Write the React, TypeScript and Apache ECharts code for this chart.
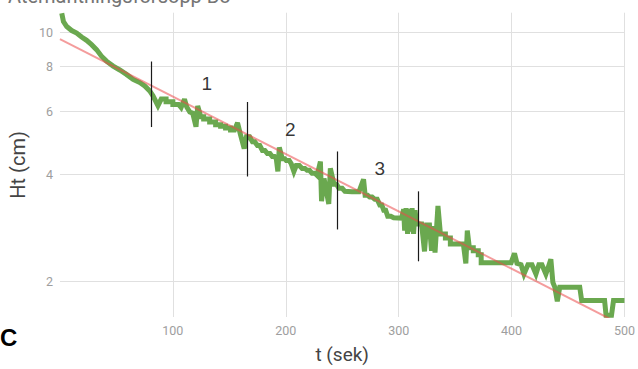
import { useEffect, useRef } from "react";
import * as echarts from "echarts";

// Measured water height (cm) against time (s)
const timeSec = [
  1.6, 3.1, 6.0, 10.4, 14.8, 19.2, 23.6, 28.0, 32.4, 36.8, 41.2, 47.1, 53.0, 58.9, 64.8, 70.7, 75.1, 79.5,
  82.4, 86.8, 89.7, 94, 94, 100, 100, 105, 107.3, 110.3, 112.3, 115.0, 117.6, 120.5, 122.0,
  124.7, 127.3, 127.3, 132.6, 132.6, 137.9, 137.9, 142.3, 142.3, 146.7, 146.7, 151.1, 151.1, 154.6,
  157.3, 159.9, 163.2, 165.2, 168, 170.5, 172.5, 174.9, 177, 179.3, 181.5, 183.7, 186, 188.1, 190, 191.6,
  193.0, 194.3, 196.9, 199, 200.4, 203, 204.8, 207.2, 209.3, 212, 214.5, 217, 218.9, 221, 223.3, 226, 227.8,
  230.7, 231.7, 233.9, 238.1, 239.5, 242.7, 245, 247.1, 250, 252.4, 258.6, 264.8, 268.9,
  270.3, 272.5, 274.4, 276.5, 278.9, 281, 283.3, 285, 286.8, 288.5, 290.3, 293, 295.6, 302.6,
  304.4, 305.3, 306.6, 307.9, 309.3, 310.6, 311.9, 313.2, 314.5, 315.9, 320.3, 322.9, 324.7, 327.3, 329.1,
  330.8, 332.2, 334.8, 337.0, 341.4, 341.4, 345.8, 345.8, 357.3, 359.5, 360.8, 362.6, 366.1, 366.1, 370.5,
  370.5, 373.1, 373.1, 390.7, 399.6, 402.6, 404.8, 408.4, 411.0, 414.5, 418.1, 421.6, 424.2, 426.9, 430.4,
  433.0, 434.8, 436.6, 438.3, 440.5, 442.7, 452.4, 460.4, 462.1, 470.0, 482.4, 483.7, 488.5, 490.3, 500,
];
const heightCm = [
  11.29, 10.7, 10.36, 10.1, 9.94, 9.69, 9.48, 9.22, 8.93, 8.56, 8.29, 8.03, 7.83, 7.61, 7.37, 7.22, 7.06, 6.84,
  6.63, 6.22, 6.49, 6.49, 6.38, 6.38, 6.27, 6.27, 6.15, 6.49, 6.17, 5.97, 5.93, 5.43, 6.21,
  5.79, 5.79, 5.71, 5.71, 5.6, 5.6, 5.5, 5.5, 5.45, 5.45, 5.39, 5.39, 5.32, 5.32,
  5.57, 5.16, 4.72, 5.09, 5.09, 4.93, 4.93, 4.81, 4.81, 4.66, 4.66, 4.57, 4.57, 4.48, 4.48, 4.42,
  4.07, 4.75, 4.42, 4.42, 4.37, 4.37, 4.28, 4.07, 4.23, 4.23, 4.15, 4.15, 4.1, 4.1, 4.02, 4.02, 3.97,
  4.34, 3.36, 3.89, 3.3, 4.15, 3.75, 3.75, 3.65, 3.65, 3.58, 3.57, 3.57, 3.87,
  3.49, 3.49, 3.45, 3.45, 3.4, 3.4, 3.28, 3.28, 3.17, 3.17, 3.05, 3.05, 3.02, 3.01,
  3.19, 2.78, 3.21, 2.72, 3.19, 2.76, 3.21, 2.72, 3.17, 2.9, 2.9, 2.43, 2.88, 2.88, 2.44,
  2.86, 2.41, 3.26, 2.72, 2.72, 2.65, 2.65, 2.55, 2.55, 2.25, 2.78, 2.49, 2.49, 2.44, 2.44,
  2.38, 2.38, 2.26, 2.26, 2.26, 2.4, 2.25, 2.23, 2.1, 2.23, 2.23, 2.1, 2.23, 2.23, 2.1,
  2.22, 2.31, 1.99, 1.93, 1.76, 1.93, 1.93, 1.93, 1.77, 1.77, 1.77, 1.61, 1.61, 1.77, 1.77,
];

// Exponential fit (straight on the log axis)
const trendT = [0, 500];
const trendH = [9.56, 1.5];

// Phase boundaries
const markerT = [80.6, 166, 245.4, 317.4];
const markerTop = [8.27, 6.37, 4.63, 3.58];
const markerBottom = [5.42, 3.94, 2.8, 2.28];

// Phase numbers
const phaseNames = ["1", "2", "3"];
const phaseT = [130, 204, 283.3];
const phaseH = [7.19, 5.32, 4.15];

const yTicks = [2, 4, 6, 8, 10];

const titleText = "Atemanthingsforsopp Bo";
const panelLetter = "C";

export default function App() {
  const ref = useRef<HTMLDivElement>(null);

  useEffect(() => {
    if (!ref.current) return;
    const chart = echarts.init(ref.current, undefined, { renderer: "svg" });
    const axisLabelColor = "#9e9e9e";
    const gridColor = "#e0e0e0";

    chart.setOption({
      animation: false,
      backgroundColor: "#ffffff",
      grid: { left: 56.5, right: 13.5, top: 12.7, bottom: 49 },
      xAxis: {
        type: "value",
        min: 0,
        max: 500,
        interval: 100,
        axisLine: { show: false },
        axisTick: { show: false },
        axisLabel: {
          showMinLabel: false,
          color: axisLabelColor,
          fontSize: 12.5,
          fontFamily: "Roboto",
          margin: 7,
        },
        splitLine: { show: true, showMinLine: false, lineStyle: { color: gridColor, width: 1 } },
        name: "t (sek)",
        nameLocation: "middle",
        nameGap: 28,
        nameTextStyle: { color: "#444444", fontSize: 19, fontFamily: "Roboto" },
      },
      yAxis: {
        type: "log",
        min: 1.592,
        max: 11.33,
        axisLine: { show: false },
        axisTick: { show: false, customValues: yTicks },
        axisLabel: {
          customValues: yTicks,
          color: axisLabelColor,
          fontSize: 12.5,
          fontFamily: "Roboto",
          margin: 7,
        },
        splitLine: { show: true, lineStyle: { color: gridColor, width: 1 } },
        name: "Ht (cm)",
        nameLocation: "middle",
        nameGap: 27,
        nameTextStyle: { color: "#444444", fontSize: 20, fontFamily: "Roboto" },
      },
      series: [
        {
          type: "line",
          data: timeSec.map((t, i) => [t, heightCm[i]]),
          showSymbol: false,
          symbol: "none",
          lineStyle: { color: "#6aa84f", width: 5, join: "miter", miterLimit: 3 },
          z: 2,
          markLine: {
            silent: true,
            symbol: ["none", "none"],
            label: { show: false },
            lineStyle: { color: "#1a1a1a", width: 1.2, type: "solid" },
            data: markerT.map((t, i) => [
              { coord: [t, markerTop[i]] },
              { coord: [t, markerBottom[i]] },
            ]),
          },
        },
        {
          type: "line",
          data: trendT.map((t, i) => [t, trendH[i]]),
          showSymbol: false,
          symbol: "none",
          lineStyle: { color: "rgba(235,75,75,0.55)", width: 2 },
          z: 3,
        },
        {
          type: "scatter",
          data: phaseT.map((t, i) => ({ value: [t, phaseH[i]], name: phaseNames[i] })),
          symbolSize: 1,
          itemStyle: { color: "rgba(0,0,0,0)" },
          label: {
            show: true,
            position: "inside",
            formatter: (p: any) => p.name,
            color: "#000000",
            fontSize: 19,
            fontFamily: "Liberation Sans",
          },
          z: 4,
        },
      ],
      graphic: [
        {
          type: "text",
          x: 8,
          y: -4,
          style: {
            text: titleText,
            fill: "#757575",
            font: "20px Roboto",
            verticalAlign: "middle",
          },
        },
        {
          type: "text",
          x: 0,
          y: 337,
          style: {
            text: panelLetter,
            fill: "#000000",
            font: "bold 24px 'Liberation Sans'",
            verticalAlign: "middle",
          },
        },
      ],
    });

    return () => chart.dispose();
  }, []);

  return (
    <div
      ref={ref}
      style={{ position: "absolute", left: 0, top: 0, width: 638, height: 369 }}
    />
  );
}
